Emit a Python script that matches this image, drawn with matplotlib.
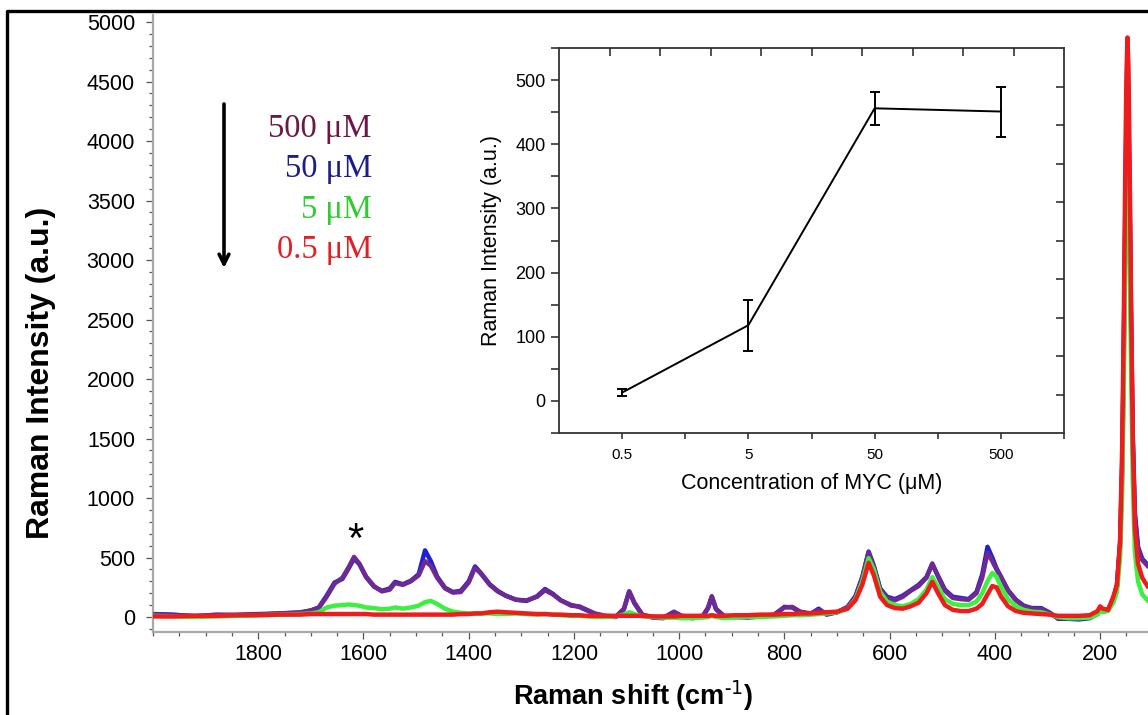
"""
SERS-спектры MYC при разных концентрациях + вставка: интенсивность пика от концентрации.
"""

import matplotlib
matplotlib.use("Agg")
import matplotlib.pyplot as plt
import numpy as np
from matplotlib.lines import Line2D
from matplotlib.ticker import MultipleLocator, FixedLocator, NullFormatter

plt.rcParams["font.family"] = ["Liberation Sans", "DejaVu Sans"]

# ---- данные спектров ----
shift = [
    2000, 1960, 1920, 1880, 1840, 1800, 1760, 1720, 1700, 1685,
    1670, 1655, 1640, 1628, 1618, 1608, 1595, 1580, 1565, 1550,
    1540, 1525, 1510, 1495, 1483, 1472, 1460, 1445, 1430, 1415,
    1400, 1388, 1376, 1360, 1345, 1330, 1310, 1290, 1270, 1255,
    1240, 1225, 1205, 1190, 1175, 1160, 1140, 1120, 1105, 1095,
    1085, 1070, 1050, 1030, 1010, 995, 975, 955, 945, 938,
    930, 915, 895, 870, 845, 820, 800, 785, 770, 750,
    735, 720, 700, 680, 665, 652, 640, 630, 618, 605,
    590, 575, 560, 545, 530, 519, 508, 495, 480, 465,
    450, 435, 424, 414, 405, 397, 388, 375, 360, 345,
    330, 312, 295, 280, 260, 240, 220, 205, 200, 195,
    185, 175, 168, 162, 158, 155, 152, 150, 148, 146,
    144, 141, 138, 134, 128, 120, 110,
]

i_500 = [
    20, 15, 10, 15, 20, 25, 30, 40, 55, 75,
    170, 280, 330, 420, 505, 450, 340, 260, 215, 230,
    285, 270, 300, 350, 470, 430, 330, 240, 205, 210,
    290, 415, 360, 270, 215, 180, 145, 140, 170, 225,
    190, 140, 95, 90, 60, 30, 10, 5, 70, 215,
    120, 20, 0, -5, 45, 10, 0, 10, 80, 175,
    70, 10, 5, 0, 10, 20, 80, 85, 45, 30,
    60, 25, 40, 80, 170, 330, 545, 420, 230, 160,
    140, 170, 220, 260, 330, 450, 340, 220, 160, 150,
    145, 200, 330, 540, 470, 400, 330, 220, 140, 90,
    70, 70, 30, -10, -10, -5, 0, 30, 60, 60,
    60, 150, 260, 600, 1250, 2200, 3400, 4000, 4300, 4050,
    3500, 2400, 1500, 850, 580, 480, 430,
]

i_50 = [
    25, 20, 5, 20, 15, 20, 30, 35, 55, 80,
    180, 290, 320, 410, 490, 445, 335, 255, 220, 240,
    295, 275, 305, 360, 560, 470, 340, 245, 210, 220,
    300, 425, 365, 275, 220, 180, 145, 135, 175, 235,
    195, 140, 100, 85, 55, 25, 5, 0, 65, 215,
    115, 15, -5, -10, 40, 5, -10, 5, 75, 170,
    65, 5, 0, -5, 5, 15, 85, 80, 40, 25,
    70, 20, 40, 85, 175, 335, 550, 430, 240, 170,
    150, 180, 225, 270, 335, 445, 345, 230, 170, 160,
    150, 210, 360, 590, 500, 410, 335, 225, 145, 95,
    75, 75, 35, -15, -15, -20, -10, 25, 55, 55,
    55, 150, 270, 620, 1300, 2300, 3500, 4150, 4450, 4200,
    3600, 2450, 1550, 880, 590, 490, 440,
]

i_5 = [
    10, 5, 0, 5, 10, 15, 20, 25, 30, 40,
    80, 95, 100, 105, 100, 95, 80, 75, 65, 70,
    80, 70, 80, 95, 125, 135, 110, 70, 45, 35,
    30, 30, 30, 30, 25, 25, 30, 25, 20, 25,
    20, 15, 10, 10, 5, 0, 0, 5, 20, 40,
    25, 5, 0, -5, -5, -10, -10, -5, 0, 10,
    0, -10, -5, 0, 0, 5, 10, 15, 15, 20,
    25, 30, 40, 70, 150, 300, 495, 400, 210, 130,
    100, 90, 110, 150, 230, 335, 250, 150, 110, 100,
    100, 130, 200, 300, 370, 340, 250, 150, 90, 60,
    45, 40, 20, 0, -10, -10, -5, 20, 50, 40,
    50, 120, 210, 500, 1050, 1950, 3100, 3750, 4000, 3750,
    3100, 2050, 1150, 550, 300, 190, 140,
]

i_05 = [
    5, 5, 10, 10, 15, 15, 20, 20, 25, 25,
    25, 25, 25, 25, 25, 25, 25, 20, 20, 20,
    20, 20, 20, 20, 20, 20, 20, 20, 20, 25,
    25, 30, 30, 40, 45, 40, 35, 30, 25, 25,
    20, 20, 15, 15, 10, 10, 10, 10, 10, 10,
    10, 10, 5, 5, 5, 10, 10, 10, 10, 15,
    10, 10, 15, 15, 20, 20, 25, 25, 30, 30,
    35, 40, 45, 70, 140, 270, 455, 350, 170, 100,
    75, 70, 90, 120, 200, 295, 200, 100, 60, 50,
    50, 70, 110, 190, 260, 250, 170, 90, 50, 35,
    30, 25, 20, 10, 10, 10, 15, 50, 90, 70,
    60, 170, 270, 650, 1450, 2500, 3850, 4550, 4870, 4600,
    3850, 2600, 1500, 750, 450, 330, 260,
]

# ---- вставка: интенсивность от концентрации ----
conc = [0.5, 5, 50, 500]
conc_labels = ["0.5", "5", "50", "500"]
inset_mean = [13, 118, 456, 451]
inset_err = [5, 40, 26, 39]

legend_labels = ["500 \u03bcM", "50 \u03bcM", "5 \u03bcM", "0.5 \u03bcM"]
legend_colors = ["#6b1846", "#1c1c8a", "#2ecc2e", "#e31e24"]

W, H = 1148, 715


def px(x, y):
    """пиксели картинки -> доли фигуры"""
    return x / W, 1 - y / H


fig = plt.figure(figsize=(W / 100, H / 100), dpi=100)

# рамка исходной картинки (видны только верх и левый край)
fig.add_artist(Line2D([7 / W, 7 / W, 1], [0, 1 - 11 / H, 1 - 11 / H],
                      transform=fig.transFigure, color="black", lw=2.4))

# ---- основной график ----
x0, y0 = px(153, 632)
x1, y1 = px(W, 15)
ax = fig.add_axes([x0, y0, x1 - x0, y1 - y0])

series = [
    (i_50, "#1f1fd6", 2),
    (i_500, "#6e2a92", 3),
    (i_5, "#3ef03e", 4),
    (i_05, "#ee1c1c", 5),
]
for vals, color, z in series:
    assert len(vals) == len(shift)
    ax.plot(shift, vals, color=color, lw=3.2, zorder=z, solid_joinstyle="round")

ax.set_xlim(2000, 109)
ax.set_ylim(-126, 5059)
for side in ("top", "right"):
    ax.spines[side].set_visible(False)
for side in ("left", "bottom"):
    ax.spines[side].set_color("#a8a8a8")
    ax.spines[side].set_linewidth(1.6)

ax.xaxis.set_minor_locator(MultipleLocator(50))
ax.yaxis.set_major_locator(MultipleLocator(500))
ax.yaxis.set_minor_locator(MultipleLocator(100))
ax.set_xticks([1800, 1600, 1400, 1200, 1000, 800, 600, 400, 200])
ax.tick_params(axis="both", which="both", color="#555555", width=0.9)
ax.tick_params(axis="y", which="major", length=5, pad=8, labelsize=15.5)
ax.tick_params(axis="y", which="minor", length=3)
ax.tick_params(axis="x", which="major", length=5, pad=4, labelsize=15.5)
ax.tick_params(axis="x", which="minor", length=3)

ax.set_xlabel("Raman shift (cm$^{\\mathregular{\u2010}1}$)", fontsize=19.5,
              fontweight="bold")
ax.xaxis.set_label_coords((633 - 153) / (W - 153), -0.075)
ax.set_ylabel("Raman Intensity (a.u.)", fontsize=23, fontweight="bold")
ax.yaxis.set_label_coords(-0.0975, 0.42)

ax.text(1616, 640, "*", fontsize=30, ha="center", va="center", zorder=6)

# стрелка и подписи концентраций
fig.add_artist(plt.Annotation(
    "", xy=px(224, 268), xytext=px(224, 104),
    xycoords="figure fraction", textcoords="figure fraction",
    arrowprops=dict(arrowstyle="->,head_length=0.7,head_width=0.35",
                    lw=2.6, color="black", shrinkA=0, shrinkB=0)))
for k, (lab, col) in enumerate(zip(legend_labels, legend_colors)):
    xf, yf = px(372, 137 + 40.3 * k)
    fig.text(xf, yf, lab, color=col, fontsize=23.5, ha="right", va="baseline",
             family=["Liberation Serif", "DejaVu Serif"])

# ---- вставка ----
ix0, iy0 = px(559, 433)
ix1, iy1 = px(1064, 48)
ins = fig.add_axes([ix0, iy0, ix1 - ix0, iy1 - iy0], zorder=10)
ins.errorbar(conc, inset_mean, yerr=inset_err, color="black", lw=1.4,
             elinewidth=1.4, capsize=3.3, capthick=1.4)
ins.set_xscale("log")
ins.set_xlim(0.5 / np.sqrt(10), 500 * np.sqrt(10))
ins.set_ylim(-50, 550)
ins.xaxis.set_major_locator(FixedLocator(conc))
ins.set_xticklabels(conc_labels)
ins.xaxis.set_minor_locator(FixedLocator([c * np.sqrt(10) for c in conc]))
ins.xaxis.set_minor_formatter(NullFormatter())
ins.yaxis.set_major_locator(MultipleLocator(100))
ins.yaxis.set_minor_locator(MultipleLocator(50))
ins.tick_params(axis="both", which="both", direction="out", color="#222222",
                width=1.1)
ins.tick_params(axis="y", which="both", length=6, pad=3.5, labelsize=13)
ins.tick_params(axis="x", which="both", length=4, pad=7, labelsize=11)
for sp in ins.spines.values():
    sp.set_color("#333333")
    sp.set_linewidth(1.3)
ins.set_xlabel("Concentration of MYC (\u03bcM)", fontsize=15.5, labelpad=8)
ins.set_ylabel("Raman Intensity (a.u.)", fontsize=15.5, labelpad=10)

# правая и верхняя оси вставки: 10 равных делений, штрихи внутрь
ins_r = ins.twinx()
ins_r.set_ylim(0, 10)
ins_r.set_yticks(range(1, 10))
ins_r.tick_params(axis="y", direction="in", length=6, width=1.1,
                  color="#222222", labelright=False)
ins_t = ins.twiny()
ins_t.set_xlim(0, 10)
ins_t.set_xticks(range(1, 10))
ins_t.tick_params(axis="x", direction="in", length=6, width=1.1,
                  color="#222222", labeltop=False)
for a in (ins_r, ins_t):
    for sp in a.spines.values():
        sp.set_visible(False)

fig.savefig("out.png", dpi=100)
